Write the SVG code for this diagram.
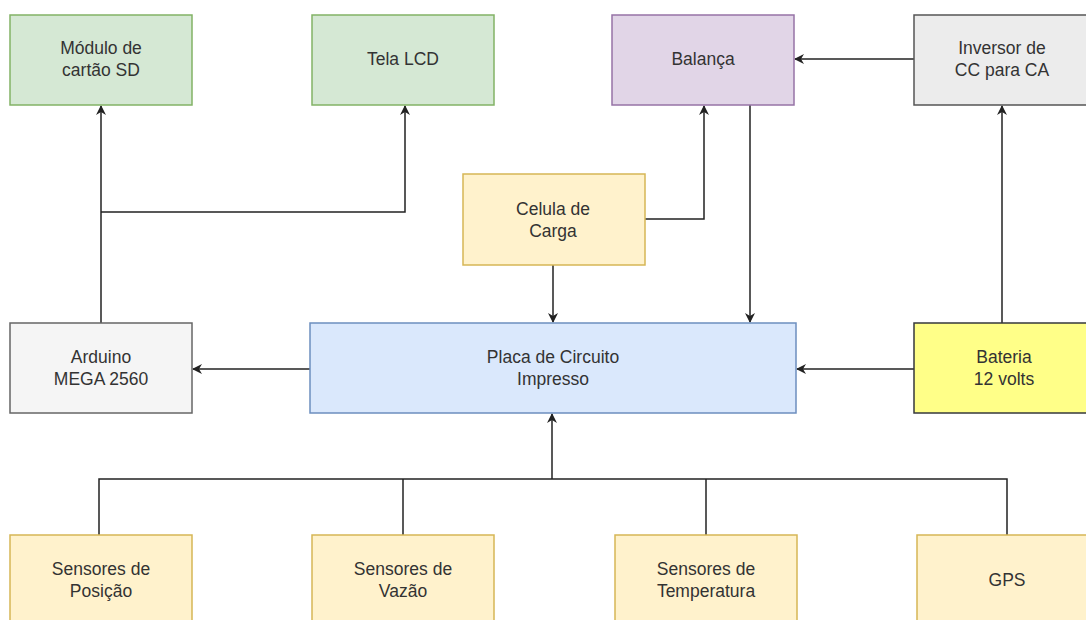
<svg xmlns="http://www.w3.org/2000/svg" width="1086" height="620" viewBox="0 0 1086 620">
<style>
text{font-family:"Liberation Sans",Arial,sans-serif;font-size:17.5px;fill:#333;text-anchor:middle}
.c{fill:none;stroke:#222;stroke-width:1.5}
.g{fill:#d5e8d4;stroke:#82b366;stroke-width:1.5}
.p{fill:#e1d5e7;stroke:#9673a6;stroke-width:1.5}
.gr{fill:#f5f5f5;stroke:#666;stroke-width:1.5}
.gr2{fill:#ececec;stroke:#555;stroke-width:1.5}
.y{fill:#fff2cc;stroke:#d6b656;stroke-width:1.5}
.b{fill:#dae8fc;stroke:#6c8ebf;stroke-width:1.5}
.yy{fill:#ffff88;stroke:#36393d;stroke-width:1.5}
</style>
<defs>
<marker id="a" viewBox="0 0 10 10" refX="9" refY="5" markerWidth="10" markerHeight="10" markerUnits="userSpaceOnUse" orient="auto">
<path d="M0,0 L10,5 L0,10 L3,5 Z" fill="#222"/>
</marker>
</defs>
<rect width="1086" height="620" fill="#fff"/>
<g id="connectors">
<path class="c" d="M101,323 V106" marker-end="url(#a)"/>
<path class="c" d="M101,212 H405 V106" marker-end="url(#a)"/>
<path class="c" d="M645,219 H704 V106" marker-end="url(#a)"/>
<path class="c" d="M914,59 H795" marker-end="url(#a)"/>
<path class="c" d="M1002,323 V106" marker-end="url(#a)"/>
<path class="c" d="M553,265 V322" marker-end="url(#a)"/>
<path class="c" d="M750,105 V322" marker-end="url(#a)"/>
<path class="c" d="M914,369 H797" marker-end="url(#a)"/>
<path class="c" d="M310,369 H193" marker-end="url(#a)"/>
<path class="c" d="M99,535 V479 H1007 V535"/>
<path class="c" d="M403,535 V479"/>
<path class="c" d="M706,535 V479"/>
<path class="c" d="M552,479 V414" marker-end="url(#a)"/>
</g>
<g id="modulo"><rect class="g" x="10" y="15" width="182" height="90"/><text x="101" y="54">Módulo de</text><text x="101" y="76">cartão SD</text></g>
<g id="tela"><rect class="g" x="312" y="15" width="182" height="90"/><text x="403" y="65">Tela LCD</text></g>
<g id="balanca"><rect class="p" x="612" y="15" width="182" height="90"/><text x="703" y="65">Balança</text></g>
<g id="inversor"><rect class="gr2" x="914" y="15" width="182" height="90"/><text x="1002" y="54">Inversor de</text><text x="1002" y="76">CC para CA</text></g>
<g id="celula"><rect class="y" x="463" y="174" width="182" height="91"/><text x="553" y="215">Celula de</text><text x="553" y="237">Carga</text></g>
<g id="arduino"><rect class="gr" x="10" y="323" width="182" height="90"/><text x="101" y="363">Arduino</text><text x="101" y="385">MEGA 2560</text></g>
<g id="placa"><rect class="b" x="310" y="323" width="486" height="90"/><text x="553" y="363">Placa de Circuito</text><text x="553" y="385">Impresso</text></g>
<g id="bateria"><rect class="yy" x="914" y="323" width="182" height="90"/><text x="1004" y="363">Bateria</text><text x="1004" y="385">12 volts</text></g>
<g id="posicao"><rect class="y" x="10" y="535" width="182" height="95"/><text x="101" y="575">Sensores de</text><text x="101" y="597">Posição</text></g>
<g id="vazao"><rect class="y" x="312" y="535" width="182" height="95"/><text x="403" y="575">Sensores de</text><text x="403" y="597">Vazão</text></g>
<g id="temperatura"><rect class="y" x="615" y="535" width="182" height="95"/><text x="706" y="575">Sensores de</text><text x="706" y="597">Temperatura</text></g>
<g id="gps"><rect class="y" x="917" y="535" width="182" height="95"/><text x="1007" y="586">GPS</text></g>
</svg>
